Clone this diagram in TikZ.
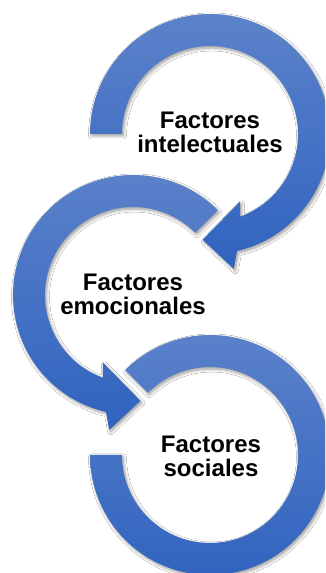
\documentclass[tikz,border=0pt]{standalone}
\usepackage{fontspec}
\setmainfont{Liberation Sans}
\usetikzlibrary{shadows.blur}
\definecolor{ringtop}{RGB}{92,130,202}
\definecolor{ringbot}{RGB}{48,99,191}
\tikzset{
  ring/.style={top color=ringtop, bottom color=ringbot, draw=none,
    blur shadow={shadow xshift=1.5pt, shadow yshift=-2pt, shadow blur steps=6, shadow blur radius=3pt, shadow opacity=40}},
  label/.style={font=\bfseries\fontsize{24}{24}\selectfont, align=center, inner sep=0pt, anchor=base}
}
\begin{document}
\begin{tikzpicture}[x=1pt,y=1pt]
\useasboundingbox[fill=white] (0,0) rectangle (325,573);
\clip (0,0) rectangle (325,573);
% ring 1 (clockwise, arrow pointing down-left)
\begin{scope}[shift={(210,439)}]
\path[ring] (180:120) arc[start angle=180,end angle=-77,radius=120]
  -- (-80:137) -- (-94:106) -- (-66:74) -- (-70:88)
  arc[start angle=-70,end angle=180,radius=88] -- cycle;
\end{scope}
% ring 2 (counterclockwise, arrow pointing down-right)
\begin{scope}[shift={(133,278)}]
\path[ring] (45:120) arc[start angle=45,end angle=257,radius=120]
  -- (260:137) -- (274:106) -- (246:74) -- (250:88)
  arc[start angle=250,end angle=45,radius=88] -- cycle;
\end{scope}
% ring 3 (clockwise, no arrow)
\begin{scope}[shift={(210,118)}]
\path[ring] (135:120) arc[start angle=135,end angle=-180,radius=120]
  -- (-180:88) arc[start angle=-180,end angle=135,radius=88] -- cycle;
\end{scope}
\node[label] (t1) at (210,420) {Factores\\intelectuales};
\node[label] (t2) at (133,258) {Factores\\emocionales};
\node[label] (t3) at (211,96) {Factores\\sociales};
\end{tikzpicture}
\end{document}
